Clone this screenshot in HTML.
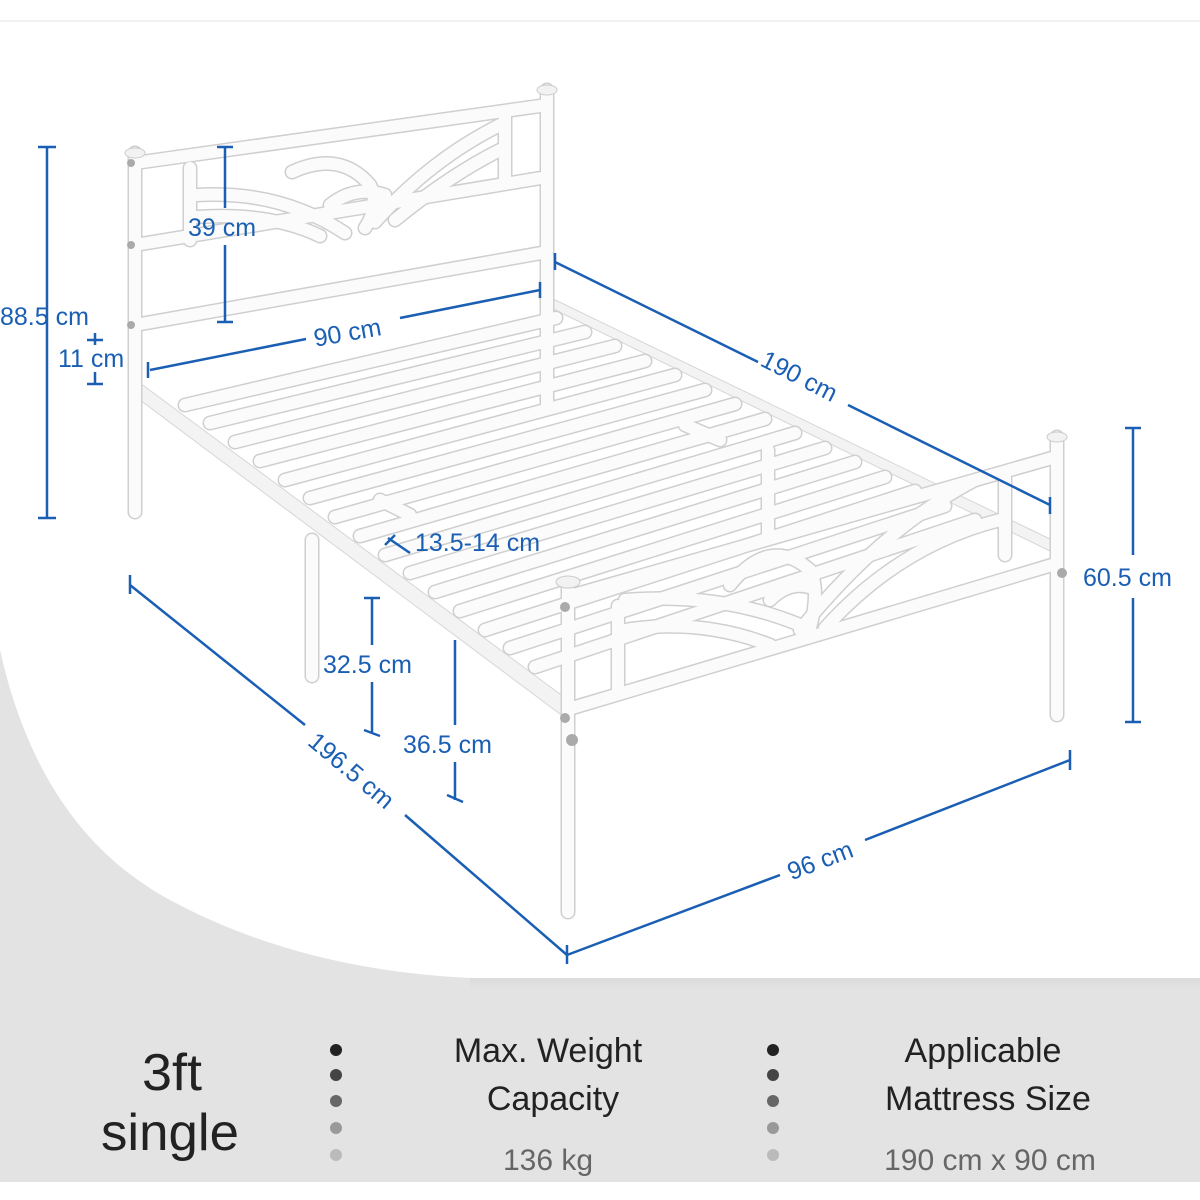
<!DOCTYPE html>
<html><head><meta charset="utf-8"><style>
body{margin:0;width:1200px;height:1200px;overflow:hidden;background:#fff;font-family:"Liberation Sans",sans-serif}
svg{position:absolute;left:0;top:0}
</style></head><body>
<svg width="1200" height="1200" viewBox="0 0 1200 1200">
<defs>
<linearGradient id="sh" x1="0" y1="0" x2="0" y2="1"><stop offset="0" stop-color="#cfcfcf"/><stop offset="1" stop-color="#e3e3e3"/></linearGradient>
<g id="tubes" fill="none" stroke-linecap="round">
 <line x1="135" y1="163" x2="547" y2="105"/>
 <line x1="135" y1="245" x2="547" y2="177"/>
 <line x1="135" y1="325" x2="547" y2="252"/>
 <line x1="190" y1="168" x2="190" y2="240"/>
 <line x1="505" y1="113" x2="505" y2="183"/>
 <path d="M197 195 Q280 190 345 233"/>
 <path d="M197 217 Q270 212 320 236"/>
 <path d="M292 172 Q340 150 370 185 Q380 205 365 228"/>
 <path d="M330 205 Q355 185 385 195"/>
 <path d="M375 222 Q430 160 500 125"/>
 <path d="M395 220 Q450 175 500 150"/>
 <line x1="135" y1="153" x2="135" y2="512"/>
 <line x1="547" y1="90" x2="547" y2="408"/>
 <line x1="185" y1="405" x2="556" y2="318"/>
 <line x1="210" y1="423" x2="585" y2="332"/>
 <line x1="235" y1="442" x2="615" y2="346"/>
 <line x1="260" y1="461" x2="645" y2="361"/>
 <line x1="285" y1="480" x2="675" y2="375"/>
 <line x1="310" y1="498" x2="705" y2="390"/>
 <line x1="335" y1="517" x2="735" y2="404"/>
 <line x1="360" y1="536" x2="765" y2="419"/>
 <line x1="385" y1="555" x2="795" y2="433"/>
 <line x1="410" y1="573" x2="825" y2="448"/>
 <line x1="435" y1="592" x2="855" y2="462"/>
 <line x1="460" y1="611" x2="885" y2="477"/>
 <line x1="485" y1="630" x2="915" y2="491"/>
 <line x1="510" y1="648" x2="945" y2="506"/>
 <line x1="535" y1="667" x2="975" y2="520"/>
 <line x1="380" y1="500" x2="410" y2="515"/>
 <line x1="685" y1="425" x2="720" y2="440"/>
 <line x1="312" y1="540" x2="312" y2="676"/>
 <line x1="768" y1="450" x2="768" y2="535"/>
 <line x1="570" y1="596" x2="1052" y2="458"/>
 <line x1="572" y1="708" x2="1052" y2="565"/>
 <line x1="618" y1="606" x2="618" y2="690"/>
 <line x1="1005" y1="478" x2="1005" y2="555"/>
 <path d="M625 600 Q720 592 800 625"/>
 <path d="M625 630 Q700 618 770 645"/>
 <path d="M730 585 Q770 535 810 570 Q820 590 810 628"/>
 <path d="M770 600 Q790 580 812 588"/>
 <path d="M800 630 Q880 530 975 480"/>
 <path d="M825 628 Q900 545 1000 520"/>
 <line x1="568" y1="582" x2="568" y2="912"/>
 <line x1="1057" y1="437" x2="1057" y2="715"/>
</g>
</defs>
<rect x="0" y="0" width="1200" height="1200" fill="#e3e3e3"/>
<path d="M0 0 H1200 V978 H470 Q300 970 170 900 Q40 830 0 650 Z" fill="#fff"/>
<path d="M470 978 H1200 V990 H470 Z" fill="url(#sh)" opacity="0.4"/>
<rect x="0" y="1182" width="1200" height="18" fill="#fff"/>
<line x1="0" y1="21" x2="1200" y2="21" stroke="#f2f2f2" stroke-width="2"/>

<polygon points="140,383 568,700 568,720 140,400" fill="#f3f3f3" stroke="#d6d6d6"/>
<polygon points="547,296 1052,540 1052,552 547,306" fill="#f3f3f3" stroke="#d6d6d6"/>
<use href="#tubes" stroke="#cfcfcf" stroke-width="15"/>
<use href="#tubes" stroke="#fbfbfb" stroke-width="12"/>
<ellipse cx="135" cy="153" rx="10" ry="5" fill="#f2f2f2" stroke="#ccc"/>
<ellipse cx="547" cy="90" rx="10" ry="5" fill="#f2f2f2" stroke="#ccc"/>
<ellipse cx="568" cy="582" rx="12" ry="6" fill="#f2f2f2" stroke="#ccc"/>
<ellipse cx="1057" cy="437" rx="10" ry="5" fill="#f2f2f2" stroke="#ccc"/>
<g fill="#aaa"><circle cx="131" cy="163" r="4"/><circle cx="131" cy="245" r="4"/><circle cx="131" cy="325" r="4"/><circle cx="565" cy="607" r="5"/><circle cx="565" cy="718" r="5"/><circle cx="572" cy="740" r="6"/><circle cx="1062" cy="573" r="5"/></g>

<g stroke="#1a5fb4" stroke-width="2.5" fill="none">
 <line x1="47" y1="147" x2="47" y2="518"/><line x1="38" y1="147" x2="56" y2="147"/><line x1="38" y1="518" x2="56" y2="518"/>
 <line x1="95" y1="333" x2="95" y2="345"/><line x1="95" y1="372" x2="95" y2="384"/><line x1="87" y1="384" x2="103" y2="384"/><line x1="87" y1="340" x2="103" y2="340"/>
 <line x1="225" y1="147" x2="225" y2="208"/><line x1="225" y1="245" x2="225" y2="322"/><line x1="217" y1="147" x2="233" y2="147"/><line x1="217" y1="322" x2="233" y2="322"/>
 <line x1="150" y1="370" x2="306" y2="339"/><line x1="400" y1="318" x2="540" y2="290"/><line x1="148" y1="362" x2="148" y2="378"/><line x1="540" y1="282" x2="540" y2="298"/>
 <line x1="555" y1="262" x2="758" y2="362"/><line x1="848" y1="405" x2="1050" y2="505"/><line x1="555" y1="253" x2="555" y2="270"/><line x1="1050" y1="497" x2="1050" y2="514"/>
 <line x1="1133" y1="428" x2="1133" y2="555"/><line x1="1133" y1="598" x2="1133" y2="722"/><line x1="1125" y1="428" x2="1141" y2="428"/><line x1="1125" y1="722" x2="1141" y2="722"/>
 <line x1="388" y1="538" x2="410" y2="553"/><line x1="395" y1="535" x2="385" y2="545"/>
 <line x1="372" y1="598" x2="372" y2="645"/><line x1="372" y1="682" x2="372" y2="732"/><line x1="364" y1="598" x2="380" y2="598"/><line x1="364" y1="730" x2="380" y2="736"/>
 <line x1="455" y1="640" x2="455" y2="725"/><line x1="455" y1="762" x2="455" y2="800"/><line x1="447" y1="795" x2="463" y2="802"/>
 <line x1="130" y1="585" x2="305" y2="725"/><line x1="405" y1="815" x2="567" y2="955"/><line x1="130" y1="575" x2="130" y2="594"/>
 <line x1="567" y1="955" x2="780" y2="875"/><line x1="865" y1="840" x2="1070" y2="760"/><line x1="567" y1="945" x2="567" y2="964"/><line x1="1070" y1="750" x2="1070" y2="770"/>
</g>
<g fill="#1a5fb4" font-size="25">
 <text x="0" y="325">88.5 cm</text>
 <text x="58" y="367">11 cm</text>
 <text x="188" y="236">39 cm</text>
 <text x="313" y="340" transform="rotate(-10 353 330)">90 cm</text>
 <text x="758" y="385" transform="rotate(27 800 377)">190 cm</text>
 <text x="1083" y="586">60.5 cm</text>
 <text x="415" y="551">13.5-14 cm</text>
 <text x="323" y="673">32.5 cm</text>
 <text x="403" y="753">36.5 cm</text>
 <text x="300" y="778" transform="rotate(40 350 770)">196.5 cm</text>
 <text x="785" y="868" transform="rotate(-21 822 857)">96 cm</text>
</g>

<g fill="#222" text-anchor="middle">
 <text x="172" y="1090" font-size="52" textLength="60" lengthAdjust="spacingAndGlyphs">3ft</text>
 <text x="170" y="1150" font-size="52" textLength="138" lengthAdjust="spacingAndGlyphs">single</text>
 <text x="548" y="1062" font-size="34">Max. Weight</text>
 <text x="553" y="1110" font-size="34">Capacity</text>
 <text x="548" y="1170" font-size="30" fill="#666">136 kg</text>
 <text x="983" y="1062" font-size="34">Applicable</text>
 <text x="988" y="1110" font-size="34">Mattress Size</text>
 <text x="990" y="1170" font-size="30" fill="#666">190 cm x 90 cm</text>
</g>
<g>
 <circle cx="336" cy="1050" r="6" fill="#222"/><circle cx="336" cy="1075" r="6" fill="#444"/><circle cx="336" cy="1101" r="6" fill="#666"/><circle cx="336" cy="1128" r="6" fill="#999"/><circle cx="336" cy="1155" r="6" fill="#bbb"/>
 <circle cx="773" cy="1050" r="6" fill="#222"/><circle cx="773" cy="1075" r="6" fill="#444"/><circle cx="773" cy="1101" r="6" fill="#666"/><circle cx="773" cy="1128" r="6" fill="#999"/><circle cx="773" cy="1155" r="6" fill="#bbb"/>
</g>
</svg>
</body></html>
